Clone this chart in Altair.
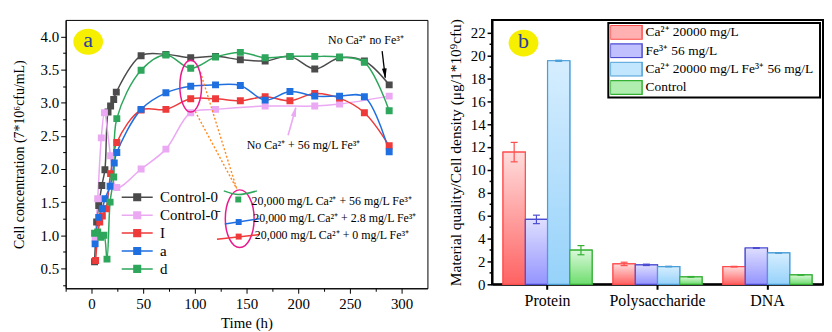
import altair as alt
import pandas as pd

FONT = "Liberation Serif"

# ---------------- panel (a): cell concentration vs time ----------------
names_a = ["Control-0", "Control-0\u0304", "I", "a", "d"]
colors_a = ["#4b4b4b", "#eba8f3", "#ee3a3a", "#1f6fe0", "#2ea65c"]

t_c0 = [3, 5, 7, 10, 13, 16, 18.5, 21.5, 24, 48, 72, 96, 120, 144, 168, 192, 216, 240, 264, 288]
v_c0 = [0.60, 1.20, 1.45, 1.75, 1.99, 2.86, 2.95, 3.05, 3.16, 3.71, 3.73, 3.68, 3.70, 3.65, 3.63, 3.70, 3.51, 3.68, 3.63, 3.27]
t_c0b = [3.5, 6, 9.5, 12.5, 18.5, 24.5, 48, 72, 96, 120, 168, 216, 240, 288]
v_c0b = [0.95, 1.55, 2.47, 2.85, 2.20, 1.72, 2.00, 2.30, 2.85, 2.90, 2.95, 2.95, 2.98, 3.10]
t_I = [4, 8, 10.5, 14, 18.5, 24.5, 48, 72, 96, 120, 144, 168, 192, 216, 240, 264, 288]
v_I = [0.62, 1.20, 1.29, 1.40, 1.93, 2.40, 2.89, 2.90, 3.06, 3.06, 3.03, 3.09, 3.03, 3.14, 3.07, 2.85, 2.35]
t_a = [3.5, 7, 10.5, 13, 18, 22, 24.5, 48, 72, 96, 120, 144, 168, 192, 216, 240, 264, 288]
v_a = [0.87, 1.27, 1.40, 1.55, 1.74, 2.09, 2.25, 2.90, 3.15, 3.25, 3.27, 3.26, 3.04, 3.17, 3.10, 3.10, 3.09, 2.26]
t_d = [3, 6, 9, 12, 15, 18, 21.5, 24.5, 48, 72, 96, 120, 144, 168, 192, 216, 240, 264, 288]
v_d = [1.03, 1.05, 0.97, 1.00, 0.64, 1.50, 1.88, 2.76, 3.49, 3.72, 3.52, 3.69, 3.76, 3.68, 3.70, 3.70, 3.69, 3.61, 2.88]

x_ticks_a = [-25 + 25 * i for i in range(14)]
y_ticks_a = [0.25 * i for i in range(1, 17)]

# annotation anchors (data coordinates)
note_t = [265.5, 205.2]
note_v = [3.94, 2.36]
note_txt = ["No Ca\u00b2\u207a  no Fe\u00b3\u207a", "No Ca\u00b2\u207a + 56 mg/L Fe\u00b3\u207a"]
inset_t = [154.9, 156.5, 158.0]
inset_v = [1.514, 1.264, 1.00]
inset_txt = ["20,000 mg/L Ca\u00b2\u207a + 56 mg/L Fe\u00b3\u207a",
             "20,000 mg/L Ca\u00b2\u207a + 2.8 mg/L Fe\u00b3\u207a",
             "20,000 mg/L Ca\u00b2\u207a + 0 mg/L Fe\u00b3\u207a"]
inset_mark_t = [142, 142.4, 142.4]
inset_mark_v = [1.54, 1.20, 0.98]

# ---------------- panel (b): material per cell density ----------------
cats_b = ["Protein", "Polysaccharide", "DNA"]
names_b = ["Ca\u00b2\u207a 20000 mg/L", "Fe\u00b3\u207a 56 mg/L",
           "Ca\u00b2\u207a 20000 mg/L  Fe\u00b3\u207a 56 mg/L", "Control"]
vals_b = [[11.55, 1.78, 1.54], [5.67, 1.70, 3.17], [19.53, 1.55, 2.74], [2.98, 0.65, 0.82]]
errs_b = [[0.85, 0.15, 0.03], [0.37, 0.06, 0.03], [0.05, 0.03, 0.03], [0.40, 0.03, 0.02]]
top_b = ["#ffdcdc", "#dedeff", "#d6eeff", "#daf8da"]
bot_b = ["#ff6262", "#9494ff", "#96d2fa", "#6edd6e"]
mid_b = ["#ffb0b0", "#c0c0ff", "#c2e6fd", "#b0eeb0"]
edge_b = ["#ff4d4d", "#4b4bd2", "#4a9ed8", "#35b035"]


def ellipse_path(rx, ry):
    k = 0.5523
    return (f"M0,{-ry}C{k*rx:.3f},{-ry} {rx},{-k*ry:.3f} {rx},0"
            f"C{rx},{k*ry:.3f} {k*rx:.3f},{ry} 0,{ry}"
            f"C{-k*rx:.3f},{ry} {-rx},{k*ry:.3f} {-rx},0"
            f"C{-rx},{-k*ry:.3f} {-k*rx:.3f},{-ry} 0,{-ry}Z")


# ---------------- build panel (a) ----------------
rows = []
for name, ts, vs in zip(names_a, [t_c0, t_c0b, t_I, t_a, t_d], [v_c0, v_c0b, v_I, v_a, v_d]):
    for t, v in zip(ts, vs):
        rows.append({"s": name, "t": t, "v": v})
df_a = pd.DataFrame(rows)

xs = alt.Scale(domain=[-25, 325], nice=False, zero=False)
ys = alt.Scale(domain=[0.2, 4.25], nice=False, zero=False)
x_axis_a = alt.Axis(values=x_ticks_a, labelExpr="datum.value % 50 == 0 ? datum.label : ''",
                    tickSize={"condition": {"test": "datum.value % 50 != 0", "value": 3}, "value": 5},
                    title="Time (h)", titleFontSize=15, titlePadding=4, labelPadding=3,
                    labelFontSize=15, grid=False)
y_axis_a = alt.Axis(values=y_ticks_a,
                    labelExpr="datum.value % 0.5 == 0 ? format(datum.value, '.1f') : ''",
                    tickSize={"condition": {"test": "datum.value % 0.5 != 0", "value": 3}, "value": 5},
                    title="Cell concentration (7*10\u2076cfu/mL)", titleFontSize=14, titlePadding=14,
                    labelPadding=2, labelFontSize=15, grid=False)
XA = alt.X("t:Q", scale=xs, axis=x_axis_a)
YA = alt.Y("v:Q", scale=ys, axis=y_axis_a)

leg_a = alt.Legend(
    title=None, orient="none", legendX=55, legendY=171,
    symbolType="M-2.6,0H2.6M-0.55,-0.55H0.55V0.55H-0.55Z", symbolSize=144,
    symbolStrokeWidth=1.5, symbolOffset=9.5, labelOffset=15.5,
    labelFont=FONT, labelFontSize=15, labelColor="black", rowPadding=2, padding=0,
)
cscale_a = alt.Scale(domain=names_a, range=colors_a)

lines_a = alt.Chart(df_a).mark_line(interpolate="catmull-rom", strokeWidth=1.5, clip=True).encode(
    x=XA, y=YA, stroke=alt.Stroke("s:N", scale=cscale_a, legend=leg_a))
pts_a = alt.Chart(df_a).mark_point(shape="square", filled=True, size=30, opacity=1, strokeWidth=1.5).encode(
    x=XA, y=YA,
    fill=alt.Fill("s:N", scale=cscale_a, legend=leg_a),
    stroke=alt.Stroke("s:N", scale=cscale_a, legend=leg_a))

# decorations
badge_a = alt.Chart(pd.DataFrame({"t": [-3.2], "v": [3.92], "lab": ["a"]}))
badge_a_circ = badge_a.mark_point(shape=ellipse_path(1, 0.87), size=900, filled=True,
                                  color="#f7ef00", opacity=1).encode(x=XA, y=YA)
badge_a_txt = badge_a.mark_text(font=FONT, fontSize=22, color="#2a3fa0", dy=-2).encode(
    x=XA, y=YA, text="lab:N")

notes = alt.Chart(pd.DataFrame({"t": note_t, "v": note_v, "lab": note_txt})).mark_text(
    font=FONT, fontSize=12, color="black").encode(x=XA, y=YA, text="lab:N")

arr_black = alt.Chart(pd.DataFrame({"t": [281.2], "v": [3.78], "t2": [284.2], "v2": [3.38]})).mark_rule(
    color="black", strokeWidth=1.3).encode(x=XA, y=YA, x2="t2:Q", y2="v2:Q")
arr_black_h = alt.Chart(pd.DataFrame({"t": [283.8], "v": [3.44]})).mark_point(
    shape="M-0.45,-1L0.45,-1L0,1Z", size=110, filled=True, color="black", opacity=1, angle=354).encode(x=XA, y=YA)
arr_pink = alt.Chart(pd.DataFrame({"t": [190.2], "v": [2.51], "t2": [197.6], "v2": [2.92]})).mark_rule(
    color="#eba8f3", strokeWidth=1.6).encode(x=XA, y=YA, x2="t2:Q", y2="v2:Q")
arr_pink_h = alt.Chart(pd.DataFrame({"t": [196.7], "v": [2.87]})).mark_point(
    shape="M-0.5,1L0.5,1L0,-1Z", size=110, filled=True, color="#eba8f3", opacity=1, angle=15).encode(x=XA, y=YA)

ell1 = alt.Chart(pd.DataFrame({"t": [96.0], "v": [3.25]})).mark_point(
    shape=ellipse_path(0.42, 1), size=2704, filled=False, color="#ea1a8c", strokeWidth=1.5, opacity=1).encode(x=XA, y=YA)
ell2 = alt.Chart(pd.DataFrame({"t": [143.4], "v": [1.25]})).mark_point(
    shape=ellipse_path(0.5, 1), size=3364, filled=False, color="#ea1a8c", strokeWidth=1.5, opacity=1).encode(x=XA, y=YA)
dots = alt.Chart(pd.DataFrame({"t": [105.4, 100.3], "v": [3.46, 2.87], "t2": [140.5, 140.5], "v2": [1.70, 1.70]})).mark_rule(
    color="#ff8a1e", strokeWidth=1.4, strokeDash=[2, 2]).encode(x=XA, y=YA, x2="t2:Q", y2="v2:Q")

ins_green = alt.Chart(pd.DataFrame({"t": [128, 142, 160], "v": [1.67, 1.615, 1.67]})).mark_line(
    color=colors_a[4], strokeWidth=1.5, interpolate="monotone").encode(x=XA, y=YA)
ins_blue = alt.Chart(pd.DataFrame({"t": [129, 162.5], "v": [1.17, 1.25]})).mark_line(
    color=colors_a[3], strokeWidth=1.5).encode(x=XA, y=YA)
ins_red = alt.Chart(pd.DataFrame({"t": [121.4, 162.5], "v": [0.94, 1.01]})).mark_line(
    color=colors_a[2], strokeWidth=1.5).encode(x=XA, y=YA)
ins_pts = [
    alt.Chart(pd.DataFrame({"t": [inset_mark_t[i]], "v": [inset_mark_v[i]]})).mark_point(
        shape="square", filled=True, size=36, opacity=1, color=colors_a[4 - i]).encode(x=XA, y=YA)
    for i in range(3)
]
ins_txt = alt.Chart(pd.DataFrame({"t": inset_t, "v": inset_v, "lab": inset_txt})).mark_text(
    font=FONT, fontSize=12, align="left", color="black").encode(x=XA, y=YA, text="lab:N")

panel_a = alt.layer(
    lines_a, pts_a, dots, ell1, ell2, ins_green, ins_blue, ins_red, *ins_pts, ins_txt,
    badge_a_circ, badge_a_txt, notes, arr_black, arr_black_h, arr_pink, arr_pink_h,
).properties(width=364, height=270, view=alt.ViewBackground(stroke="black", strokeWidth=1))

# ---------------- build panel (b) ----------------
rows_b = []
for k, (name, vs, es) in enumerate(zip(names_b, vals_b, errs_b)):
    for c, v, e in zip(cats_b, vs, es):
        rows_b.append({"k": k, "sb": name, "cat": c, "val": v, "lo": v - e, "hi": v + e})
df_b = pd.DataFrame(rows_b)

XB = alt.X("cat:N", sort=cats_b, scale=alt.Scale(paddingInner=0.19, paddingOuter=0.1),
           axis=alt.Axis(title=None, labelAngle=0, labelFontSize=16, labelPadding=3,
                         domainWidth=2, tickWidth=2, tickSize=5))
XO = alt.XOffset("sb:N", sort=names_b, scale=alt.Scale(domain=names_b, paddingInner=0, paddingOuter=0))
y_axis_b = alt.Axis(values=list(range(0, 23)), labelExpr="datum.value % 2 == 0 ? datum.label : ''",
                    tickSize={"condition": {"test": "datum.value % 2 != 0", "value": 3}, "value": 5},
                    domainWidth=2, tickWidth=1.5, grid=False, labelFontSize=15, labelPadding=2,
                    title="Material quality/Cell density (\u03bcg/1*10\u2079cfu)", titleFontSize=15.5,
                    titlePadding=7)
ys_b = alt.Scale(domain=[0, 23.1], nice=False)
YB = alt.Y("val:Q", scale=ys_b, axis=y_axis_b)
YLO = alt.Y("lo:Q", scale=ys_b, axis=y_axis_b)
YHI = alt.Y("hi:Q", scale=ys_b, axis=y_axis_b)

leg_b = alt.Legend(
    title=None, orient="none", legendX=117, legendY=3,
    symbolType="M-2.13,-0.95H2.13V0.95H-2.13Z", symbolSize=225, symbolStrokeWidth=1.5,
    symbolOffset=7.5, labelOffset=11, labelFont=FONT, labelFontSize=13.5, labelColor="black",
    rowPadding=3.5, clipHeight=15, padding=2, strokeColor="black", fillColor="white", labelLimit=182,
)
# solid base bars (carry the legend), covered by gradient bars of the same geometry
base_bars = alt.Chart(df_b).mark_bar(strokeWidth=1.2).encode(
    x=XB, xOffset=XO, y=YB,
    fill=alt.Fill("sb:N", scale=alt.Scale(domain=names_b, range=mid_b), legend=leg_b),
    stroke=alt.Stroke("sb:N", scale=alt.Scale(domain=names_b, range=edge_b), legend=leg_b))

bar_layers = []
err_layers = []
for k in range(4):
    grad = alt.Gradient(gradient="linear", x1=0, x2=0, y1=0, y2=1,
                        stops=[alt.GradientStop(color=top_b[k], offset=0),
                               alt.GradientStop(color=bot_b[k], offset=1)])
    sub = alt.Chart(df_b).transform_filter(alt.datum.k == k)
    bar_layers.append(sub.mark_bar(fill=grad, stroke=edge_b[k], strokeWidth=1.2).encode(
        x=XB, xOffset=XO, y=YB))
    err_layers.append(sub.mark_rule(strokeWidth=1.2, color=edge_b[k]).encode(
        x=XB, xOffset=XO, y=YLO, y2="hi:Q"))
    err_layers.append(sub.mark_tick(size=7, thickness=1.2, orient="horizontal", opacity=1,
                                    color=edge_b[k]).encode(x=XB, xOffset=XO, y=YLO))
    err_layers.append(sub.mark_tick(size=7, thickness=1.2, orient="horizontal", opacity=1,
                                    color=edge_b[k]).encode(x=XB, xOffset=XO, y=YHI))

badge_b = alt.Chart(pd.DataFrame({"lab": ["b"]}))
badge_b_circ = badge_b.mark_point(shape=ellipse_path(1, 0.9), size=900, filled=True,
                                  color="#f7ef00", opacity=1).encode(x=alt.value(31.7), y=alt.value(23.3))
badge_b_txt = badge_b.mark_text(font=FONT, fontSize=22, color="#2a3fa0", dy=-2).encode(
    x=alt.value(31.7), y=alt.value(23.3), text="lab:N")

panel_b = alt.layer(base_bars, *bar_layers, *err_layers, badge_b_circ, badge_b_txt).properties(
    width=333, height=266, view=alt.ViewBackground(stroke="black", strokeWidth=2))

chart = alt.hconcat(panel_a, panel_b, spacing=18).resolve_scale(
    fill="independent", stroke="independent",
    x="independent", y="independent").resolve_legend(
    fill="independent", stroke="independent").properties(
    padding={"left": 3, "top": 8, "right": 0, "bottom": 0},
    background="white",
).configure_axis(
    labelFont=FONT, titleFont=FONT, labelColor="black", titleColor="black",
    domainColor="black", tickColor="black", titleFontWeight="normal",
).configure_legend(labelFont=FONT, strokeWidth=2)

chart.save("out.html", embed_options={"renderer": "svg", "actions": False})
